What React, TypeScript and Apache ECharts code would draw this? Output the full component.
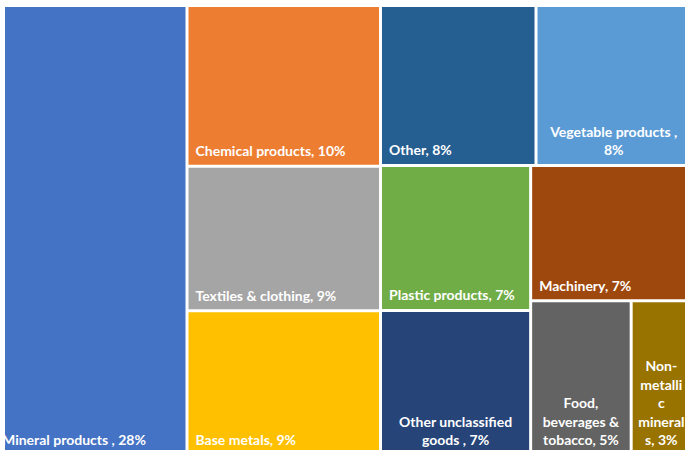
import React, { useEffect, useRef } from "react";
import * as echarts from "echarts";

const categories = [
  "Mineral products",
  "Chemical products",
  "Textiles & clothing",
  "Base metals",
  "Other",
  "Vegetable products",
  "Plastic products",
  "Machinery",
  "Other unclassified goods",
  "Food, beverages & tobacco",
  "Non-metallic minerals",
];
const shares = [28, 10, 9, 9, 8, 8, 7, 7, 7, 5, 3];
const labelTexts = [
  "Mineral products , 28%",
  "Chemical products, 10%",
  "Textiles & clothing, 9%",
  "Base metals, 9%",
  "Other, 8%",
  "Vegetable products ,\n8%",
  "Plastic products, 7%",
  "Machinery, 7%",
  "Other unclassified\ngoods , 7%",
  "Food,\nbeverages &\ntobacco, 5%",
  "Non-\nmetalli\nc\nmineral\ns, 3%",
];
const colors = [
  "#4472C4",
  "#ED7D31",
  "#A5A5A5",
  "#FFC000",
  "#255E91",
  "#5B9BD5",
  "#70AD47",
  "#9E480E",
  "#264478",
  "#636363",
  "#997300",
];
const centeredLabels = [5, 8, 9, 10];
// nesting of the category indices (the treemap's grouping)
const grouping: any = [0, [1, 2, 3], [[4, 5], [[6, 8], [7, [9, 10]]]]];

function buildNode(g: any, path: string): any {
  if (typeof g === "number") {
    const centered = centeredLabels.indexOf(g) >= 0;
    return {
      name: categories[g],
      value: shares[g],
      idx: g,
      itemStyle: { color: colors[g] },
      label: centered
        ? { position: "insideBottom", align: "center", overflow: "none" }
        : {},
    };
  }
  return {
    name: "group" + path,
    children: g.map((c: any, i: number) => buildNode(c, path + "-" + i)),
  };
}

export default function App() {
  const ref = useRef<HTMLDivElement>(null);
  useEffect(() => {
    document.body.style.margin = "0";
    if (!ref.current) return;
    const chart = echarts.init(ref.current, undefined, { renderer: "svg" });
    const data = (grouping as any[]).map((g, i) => buildNode(g, String(i)));
    chart.setOption({
      animation: false,
      backgroundColor: "#ffffff",
      tooltip: { show: false },
      series: [
        {
          type: "treemap",
          left: -5,
          top: 7,
          width: 695,
          height: 447,
          roam: false,
          nodeClick: false,
          sort: false,
          squareRatio: 0.7,
          breadcrumb: { show: false },
          itemStyle: { borderWidth: 0, gapWidth: 3, borderColor: "#ffffff" },
          emphasis: { disabled: true },
          label: {
            show: true,
            position: "insideBottomLeft",
            distance: 0,
            padding: [0, 7, 5, 7],
            color: "#ffffff",
            fontFamily: "Lato",
            fontWeight: "bold",
            fontSize: 14,
            lineHeight: 18.5,
            formatter: (p: any) =>
              p.data && p.data.idx != null ? labelTexts[p.data.idx] : "",
          },
          data,
        },
      ],
      graphic: [
        {
          type: "rect",
          left: 0,
          top: 0,
          z: 100,
          shape: { width: 5, height: 450 },
          style: { fill: "#ffffff" },
        },
      ],
    });
    return () => chart.dispose();
  }, []);
  return (
    <div
      ref={ref}
      style={{ position: "fixed", left: 0, top: 0, width: 685, height: 450 }}
    />
  );
}
